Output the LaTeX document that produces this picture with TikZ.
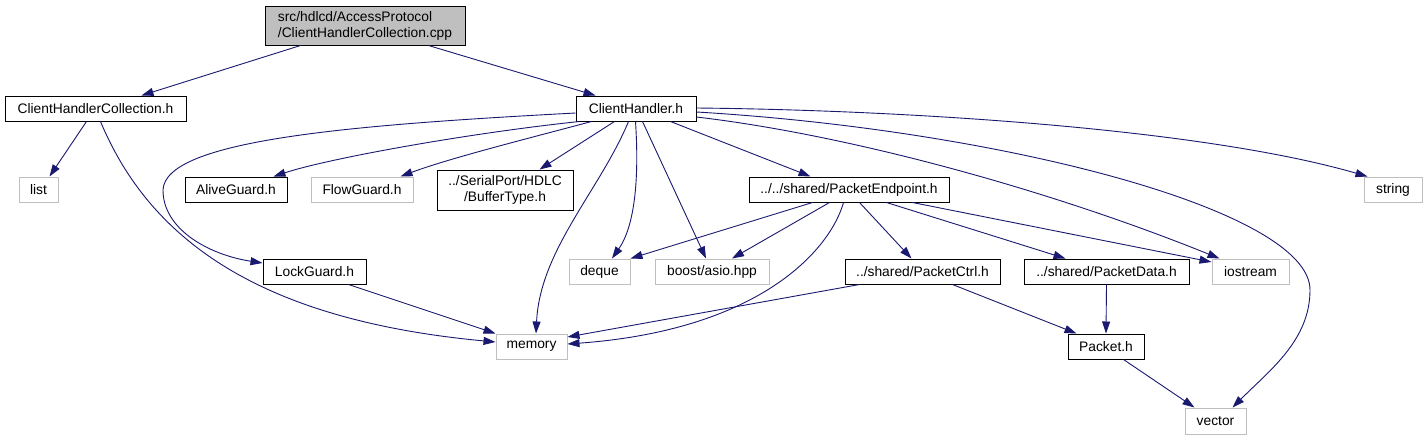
\documentclass[tikz,border=0pt]{standalone}
\usepackage{fontspec}
\setmainfont{Liberation Sans}
\usetikzlibrary{arrows.meta}
\definecolor{edgeblue}{HTML}{191970}
\definecolor{lightborder}{HTML}{BFBFBF}
\definecolor{rootfill}{HTML}{BFBFBF}
\begin{document}
\begin{tikzpicture}[x=1pt,y=-1pt,
  base/.style={rectangle,inner sep=0pt,line width=1pt,minimum height=25pt,font=\fontsize{13.8pt}{16pt}\selectfont},
  hdr/.style={base,draw=black,fill=white},
  sys/.style={base,draw=lightborder,fill=white},
  root/.style={base,draw=black,fill=rootfill,align=left,minimum height=39pt},
  e/.style={draw=edgeblue,line width=0.9pt,-{Triangle[length=12pt,width=8pt]},edgeblue}]
\useasboundingbox (0,0) rectangle (1427,440);
\fill[white] (0,0) rectangle (1427,440);

% nodes
\node[root,minimum width=200pt] (cpp) at (365,25.5) {src/hdlcd/AccessProtocol\\/ClientHandlerCollection.cpp};
\node[hdr,minimum width=181pt] (chc) at (95.5,108.5) {ClientHandlerCollection.h};
\node[hdr,minimum width=120pt] (ch) at (636,108.5) {ClientHandler.h};
\node[sys,minimum width=39pt] (list) at (38.5,189.5) {list};
\node[hdr,minimum width=102pt] (alive) at (236,189.5) {AliveGuard.h};
\node[sys,minimum width=102pt] (flow) at (362,189.5) {FlowGuard.h};
\node[hdr,minimum width=136pt,minimum height=40pt,align=center] (buf) at (505,190) {../SerialPort/HDLC\\/BufferType.h};
\node[hdr,minimum width=200pt] (pe) at (849,189.5) {../../shared/PacketEndpoint.h};
\node[sys,minimum width=58pt] (string) at (1393,189.5) {string};
\node[hdr,minimum width=103pt] (lock) at (314.5,271.5) {LockGuard.h};
\node[sys,minimum width=61pt] (deque) at (599.5,271.5) {deque};
\node[sys,minimum width=114pt] (asio) at (712,271.5) {boost/asio.hpp};
\node[hdr,minimum width=155pt] (pctrl) at (922.5,271.5) {../shared/PacketCtrl.h};
\node[hdr,minimum width=165pt] (pdata) at (1106.5,271.5) {../shared/PacketData.h};
\node[sys,minimum width=77pt] (ios) at (1250.5,271.5) {iostream};
\node[sys,minimum width=71pt] (mem) at (531.5,346.5) {memory};
\node[hdr,minimum width=76pt] (packet) at (1106,346.5) {Packet.h};
\node[sys,minimum width=61pt,minimum height=26pt] (vector) at (1215.5,421) {vector};

% edges from root
\draw[e] ([xshift=36pt]cpp.south west) -- ([xshift=137pt]chc.north west);
\draw[e] ([xshift=164pt]cpp.south west) -- ([xshift=20pt]ch.north west);

% ClientHandlerCollection.h
\draw[e] ([xshift=82pt]chc.south west) -- ([xshift=31pt]list.north west);
\draw[e] ([xshift=96pt]chc.south west) .. controls (150,240) and (260,320) .. ([yshift=4.5pt]mem.west);

% ClientHandler.h
\draw[e] ([yshift=-4.5pt]ch.west) .. controls (350,125) and (165,140) .. (163,190) .. controls (163,230) and (210,255) .. ([yshift=8.5pt]lock.west);
\draw[e] ([xshift=4pt]ch.south west) .. controls (470,133) and (330,158) .. ([xshift=-14pt]alive.north east);
\draw[e] ([xshift=16pt]ch.south west) .. controls (530,138) and (450,158) .. ([xshift=-13pt]flow.north east);
\draw[e] ([xshift=39pt]ch.south west) -- ([xshift=103pt]buf.north west);
\draw[e] ([xshift=53pt]ch.south west) .. controls (600,190) and (540,250) .. ([xshift=4.5pt]mem.north);
\draw[e] ([xshift=60pt]ch.south west) .. controls (640,190) and (632,230) .. ([xshift=12.5pt]deque.north);
\draw[e] ([xshift=67pt]ch.south west) -- ([xshift=-6pt]asio.north);
\draw[e] ([xshift=-26pt]ch.south east) -- ([xshift=62pt]pe.north west);
\draw[e] ([yshift=0.5pt]ch.east) .. controls (900,110) and (1200,128) .. ([xshift=4pt]string.north west);
\draw[e] ([yshift=-3.5pt]ch.east) .. controls (1000,130) and (1310,210) .. (1310,290) .. controls (1310,340) and (1270,370) .. ([xshift=-14pt]vector.north east);
\draw[e] ([yshift=-8.5pt]ch.east) .. controls (850,135) and (1050,190) .. ([xshift=8pt]ios.north west);

% PacketEndpoint.h
\draw[e] ([xshift=64pt]pe.south west) -- (deque.north east);
\draw[e] ([xshift=81pt]pe.south west) -- ([xshift=20pt]asio.north);
\draw[e] ([xshift=95pt]pe.south west) .. controls (830,250) and (760,330) .. ([yshift=2.5pt]mem.east);
\draw[e] ([xshift=111pt]pe.south west) -- ([xshift=67pt]pctrl.north west);
\draw[e] ([xshift=138pt]pe.south west) -- ([xshift=42pt]pdata.north west);
\draw[e] ([xshift=164pt]pe.south west) -- ([yshift=9.5pt]ios.west);

% others
\draw[e] ([xshift=86pt]lock.south west) -- (mem.north west);
\draw[e] ([xshift=15pt]pctrl.south west) -- ([yshift=9.5pt]mem.east);
\draw[e] ([xshift=108pt]pctrl.south west) -- ([xshift=9pt]packet.north west);
\draw[e] (pdata.south) -- (packet.north);
\draw[e] ([xshift=56pt]packet.south west) -- ([xshift=10pt]vector.north west);
\end{tikzpicture}
\end{document}
